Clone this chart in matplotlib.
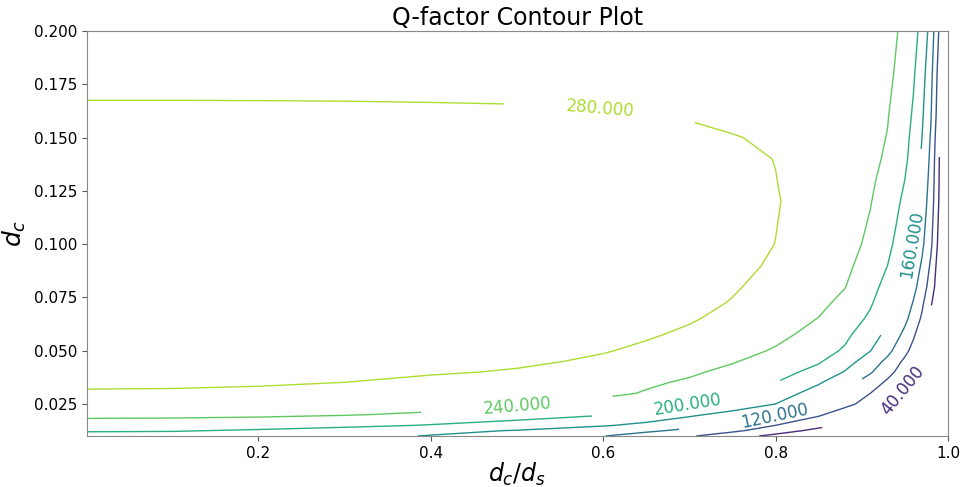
import numpy as np
import matplotlib
matplotlib.use('Agg')
import matplotlib.pyplot as plt

# Q values
# columns: d_c/d_s, rows: d_c
ratio = [0.001, 0.1, 0.2, 0.3, 0.4, 0.5, 0.6, 0.65, 0.7, 0.75,
         0.8, 0.85, 0.88, 0.91, 0.93, 0.95, 0.96, 0.97, 0.98, 0.99]
diam = [0.01, 0.0125, 0.015, 0.02, 0.025, 0.03, 0.035, 0.04, 0.045, 0.05,
        0.0575, 0.065, 0.0725, 0.08, 0.09, 0.10, 0.11, 0.12, 0.13, 0.14,
        0.15, 0.16, 0.18, 0.20]

q_rows = [
    [181, 179.9, 176.7, 170.4, 158.1, 139.5, 121.0, 103.5, 84.1, 58.0, 28.9, 11.3, 5.6, 2.4, 1.1, 0.4, 0.2, 0.1, 0.05, 0.01],
    [205, 203.2, 194.8, 180.9, 169.4, 158.0, 137.4, 126.6, 110.9, 87.5, 59.7, 27.7, 14.7, 6.7, 3.4, 1.4, 0.8, 0.4, 0.14, 0.02],
    [223, 221.8, 218.2, 210.9, 197.4, 180.5, 163.6, 149.8, 131.7, 109.4, 79.8, 52.9, 33.5, 18.0, 10.6, 5.3, 3.4, 1.9, 0.84, 0.21],
    [249, 248.3, 246.2, 241.9, 234.7, 221.0, 202.6, 186.1, 166.6, 146.7, 124.9, 84.8, 59.4, 30.4, 15.9, 6.9, 4.0, 2.0, 0.73, 0.14],
    [265, 264.5, 263.0, 260.1, 254.5, 244.2, 224.9, 214.0, 202.5, 183.4, 159.8, 119.8, 91.1, 64.5, 45.5, 24.7, 16.4, 9.8, 4.7, 1.4],
    [278, 277.7, 276.6, 274.6, 270.8, 263.7, 249.5, 237.0, 221.2, 203.7, 178.5, 144.2, 116.8, 79.8, 59.4, 33.1, 21.3, 12.1, 5.5, 1.5],
    [283, 282.7, 281.7, 279.8, 273.6, 264.2, 252.4, 245.3, 234.9, 218.6, 199.8, 163.3, 136.0, 100.4, 72.4, 44.3, 28.0, 15.6, 6.9, 1.7],
    [287, 286.8, 286.2, 284.9, 282.5, 278.1, 265.7, 256.6, 245.3, 230.9, 214.2, 187.7, 158.0, 123.8, 92.9, 59.6, 39.8, 21.5, 9.0, 2.1],
    [290.2, 290.0, 289.6, 288.6, 286.8, 283.5, 277.0, 269.2, 257.9, 242.5, 224.9, 203.9, 177.0, 140.6, 110.6, 72.2, 51.1, 27.1, 10.6, 2.2],
    [293, 292.9, 292.4, 291.6, 290.0, 287.0, 281.1, 276.7, 267.9, 254.5, 236.1, 214.0, 195.9, 160.7, 130.3, 90.7, 66.5, 37.5, 13.6, 2.4],
    [295.3, 295.2, 294.9, 294.2, 293.0, 290.6, 286.0, 281.9, 277.0, 266.8, 250.3, 226.2, 208.3, 178.2, 149.0, 110.7, 85.6, 53.7, 18.5, 2.8],
    [297, 296.9, 296.7, 296.1, 295.2, 293.3, 289.7, 286.5, 281.6, 275.3, 261.8, 238.8, 219.6, 193.8, 165.5, 128.6, 104.4, 73.5, 31.5, 5.1],
    [298.2, 298.1, 297.9, 297.5, 296.6, 295.0, 291.9, 289.2, 284.9, 279.1, 269.1, 249.5, 230.4, 204.0, 177.3, 141.2, 117.5, 87.3, 45.3, 7.7],
    [299, 298.9, 298.7, 298.4, 297.7, 296.3, 293.7, 291.3, 287.7, 281.7, 274.4, 257.7, 241.4, 212.8, 187.4, 153.1, 130.6, 101.8, 61.8, 12.7],
    [298.8, 298.7, 298.6, 298.3, 297.7, 296.6, 294.4, 292.5, 289.5, 284.5, 277.8, 263.6, 248.7, 223.5, 199.8, 165.8, 143.3, 114.7, 74.8, 17.7],
    [298, 298.0, 297.8, 297.6, 297.1, 296.2, 294.5, 292.9, 290.5, 286.5, 279.8, 268.5, 254.8, 232.2, 209.4, 177.2, 155.3, 127.4, 88.5, 25.9],
    [296.7, 296.7, 296.6, 296.3, 295.9, 295.2, 293.7, 292.3, 290.2, 286.8, 280.5, 270.7, 257.9, 237.2, 215.8, 185.2, 163.1, 134.9, 95.6, 30.6],
    [295, 295.0, 294.9, 294.7, 294.3, 293.7, 292.4, 291.2, 289.4, 286.5, 281.1, 272.2, 260.5, 241.6, 221.0, 192.3, 170.0, 141.7, 102.2, 35.6],
    [292.7, 292.7, 292.6, 292.4, 292.1, 291.5, 290.4, 289.3, 287.7, 285.1, 280.3, 272.4, 262.2, 245.9, 227.0, 199.8, 177.1, 147.8, 107.1, 38.1],
    [290, 290.0, 289.9, 289.8, 289.5, 289.0, 288.0, 287.1, 285.7, 283.4, 279.7, 272.2, 263.5, 249.7, 234.2, 206.8, 185.0, 154.6, 112.0, 39.5],
    [286.7, 286.7, 286.6, 286.5, 286.2, 285.8, 284.9, 284.1, 282.8, 280.8, 277.6, 269.7, 262.0, 250.5, 238.7, 210.6, 189.8, 159.4, 117.0, 45.3],
    [283, 283.0, 282.9, 282.8, 282.5, 282.1, 281.2, 280.4, 279.2, 276.3, 271.6, 264.4, 258.2, 249.5, 241.5, 214.9, 194.9, 165.2, 123.7, 53.6],
    [275, 275.0, 275.0, 274.9, 274.8, 274.7, 274.4, 274.1, 273.6, 272.9, 271.6, 268.8, 265.4, 258.4, 248.6, 224.0, 204.4, 175.1, 132.7, 61.2],
    [266, 266.0, 266.0, 266.0, 265.9, 265.8, 265.6, 265.4, 265.2, 264.7, 263.9, 262.2, 260.1, 255.8, 249.7, 233.3, 214.0, 187.1, 145.5, 75.1],
]

levels = [0, 40, 80, 120, 160, 200, 240, 280, 320]

# where the labels sit in the original
label_spots = [(0.596, 0.163), (0.50, 0.024), (0.698, 0.0236),
               (0.799, 0.0184), (0.948, 0.031), (0.957, 0.0999)]

X, Y = np.meshgrid(ratio, diam)
Q = np.array(q_rows)

fig = plt.figure(figsize=(9.62, 4.87), dpi=100)
ax = fig.add_axes([0.0904, 0.1047, 0.8950, 0.8316])
ax.set_xlim(0.001, 1.0)
ax.set_ylim(0.01, 0.2)

cs = ax.contour(X, Y, Q, levels=levels, cmap='viridis',
                norm=plt.Normalize(0, 320), linewidths=1.0)
ax.clabel(cs, inline=True, fontsize=12, fmt='%1.3f',
          manual=label_spots, inline_spacing=62)

ax.set_title('Q-factor Contour Plot', fontsize=17, pad=4)
ax.set_xlabel('$d_c/d_s$', fontsize=17, labelpad=0)
ax.set_ylabel('$d_c$', fontsize=18)
ax.tick_params(labelsize=11, color='#555555')
for sp in ax.spines.values():
    sp.set_color('#888888')

fig.savefig('out.png', dpi=100)
